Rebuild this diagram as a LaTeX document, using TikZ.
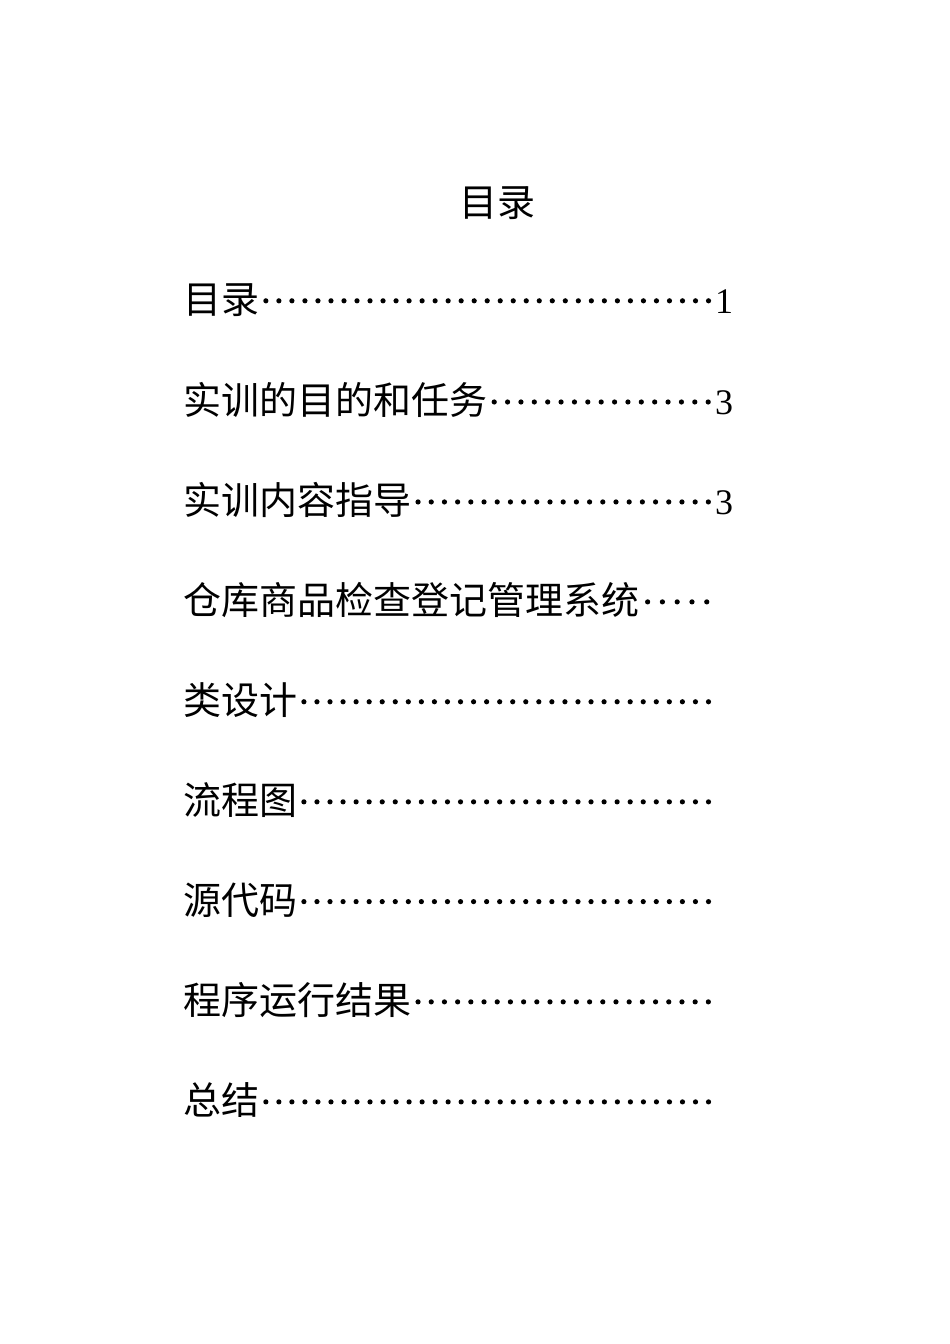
\documentclass[tikz,border=0pt]{standalone}
\usepackage{fontspec}
\setmainfont{Liberation Serif}
\newfontfamily\cjk{Noto Sans CJK SC}
\newcommand{\tocdots}{\xleaders\hbox to 12.7pt{\hss\raisebox{10pt}{\tikz\fill (0,0) circle (2.6pt);}\hss}\hfill}
\newcommand{\tocline}[2]{\makebox[532pt][l]{\cjk #1\tocdots}{\fontsize{36}{40}\selectfont #2}}
\begin{document}
\begin{tikzpicture}[x=1pt,y=-1pt,
  entry/.style={anchor=west,inner sep=0pt,font=\fontsize{38}{40}\selectfont}]
\useasboundingbox (0,0) rectangle (950,1344);
\node[font=\cjk\fontsize{38}{40}\selectfont] (title) at (497,203) {目录};
\node[entry] (r1) at (183,300) {\tocline{目录}{1}};
\node[entry] (r2) at (183,400) {\tocline{实训的目的和任务}{3}};
\node[entry] (r3) at (183,500) {\tocline{实训内容指导}{3}};
\node[entry] (r4) at (183,600) {\tocline{仓库商品检查登记管理系统}{}};
\node[entry] (r5) at (183,700) {\tocline{类设计}{}};
\node[entry] (r6) at (183,800) {\tocline{流程图}{}};
\node[entry] (r7) at (183,900) {\tocline{源代码}{}};
\node[entry] (r8) at (183,1000) {\tocline{程序运行结果}{}};
\node[entry] (r9) at (183,1100) {\tocline{总结}{}};
\end{tikzpicture}
\end{document}
